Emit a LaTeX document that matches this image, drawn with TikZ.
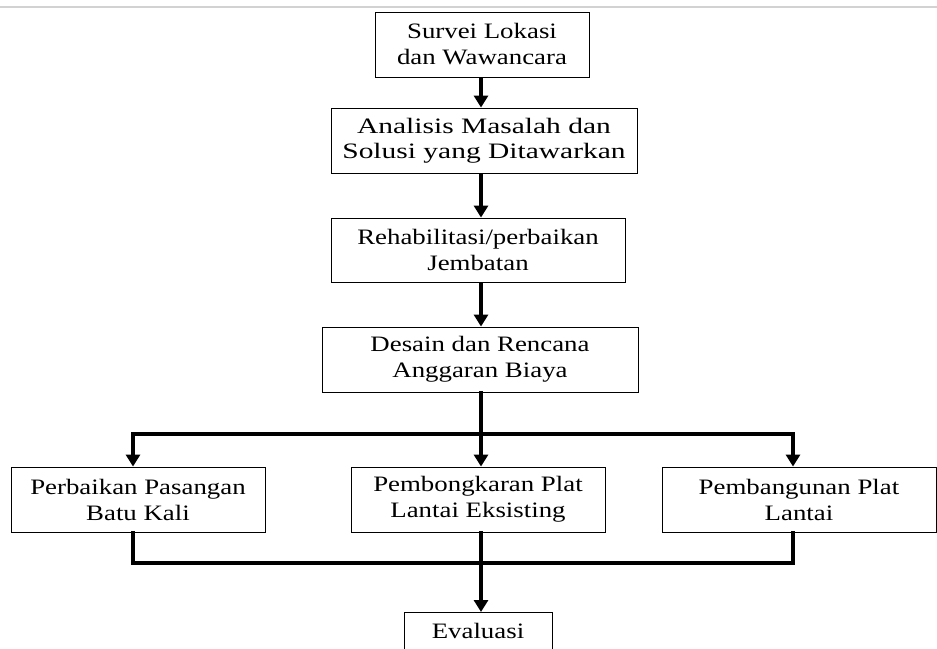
\documentclass[tikz,border=0pt]{standalone}
\usepackage{fontspec}
\setmainfont[FakeStretch=1.22]{Liberation Serif}
\newfontfamily\widerserif[FakeStretch=1.34]{Liberation Serif}
\usetikzlibrary{arrows.meta}
\begin{document}
\begin{tikzpicture}[x=1pt,y=-1pt,
  box/.style={draw=black, line width=0.9pt, fill=white, align=center, inner sep=0pt,
    font=\fontsize{22}{26}\selectfont},
  conn/.style={line width=3.8pt, line cap=rect},
  arr/.style={line width=3.8pt, -{Triangle[width=14pt,length=12pt]}}]
\useasboundingbox (0,0) rectangle (937,648);
\clip (0,0) rectangle (937,648);
\draw[gray!35, line width=2pt] (0,7) -- (937,7);
\node[box, minimum width=214pt, minimum height=65pt] (b1) at (482,44.5) {Survei Lokasi\\dan Wawancara};
\node[box, minimum width=306pt, minimum height=65pt, font=\widerserif\fontsize{22}{25}\selectfont] (b2) at (484,140.5) {Analisis Masalah dan\\Solusi yang Ditawarkan};
\node[box, minimum width=294pt, minimum height=64pt] (b3) at (478,250) {Rehabilitasi/perbaikan\\Jembatan};
\node[box, minimum width=316pt, minimum height=65pt] (b4) at (480,359.5) {Desain dan Rencana\\Anggaran Biaya};
\node[box, minimum width=254pt, minimum height=65pt] (b5) at (138,499.5) {Perbaikan Pasangan\\Batu Kali};
\node[box, minimum width=254pt, minimum height=65pt] (b6) at (478,499.5) {Pembongkaran Plat\\Lantai Eksisting};
\node[box, minimum width=274pt, minimum height=65pt] (b7) at (799,499.5) {Pembangunan Plat\\Lantai};
\node[box, minimum width=148pt, minimum height=64pt, anchor=north] (b8) at (478,612) {};
\node[font=\fontsize{22}{26}\selectfont] (t8) at (478,631) {Evaluasi};
\coordinate (xc) at (481,0);
\coordinate (xl) at (133,0);
\coordinate (xr) at (793,0);
\coordinate (splitc) at (481,434);
\coordinate (splitl) at (133,434);
\coordinate (splitr) at (793,434);
\coordinate (joinl) at (133,563);
\coordinate (joinc) at (481,563);
\coordinate (joinr) at (793,563);
\draw[arr] (b1.south -| xc) -- (b2.north -| xc);
\draw[arr] (b2.south -| xc) -- (b3.north -| xc);
\draw[arr] (b3.south -| xc) -- (b4.north -| xc);
\draw[conn] (b4.south -| xc) -- (splitc);
\draw[conn] (splitl) -- (splitr);
\draw[arr] (splitl) -- (b5.north -| xl);
\draw[arr] (splitc) -- (b6.north -| xc);
\draw[arr] (splitr) -- (b7.north -| xr);
\draw[conn] (b5.south -| xl) -- (joinl) -- (joinr) -- (b7.south -| xr);
\draw[conn] (b6.south -| xc) -- (joinc);
\draw[arr] (joinc) -- (b8.north -| xc);
\end{tikzpicture}
\end{document}
